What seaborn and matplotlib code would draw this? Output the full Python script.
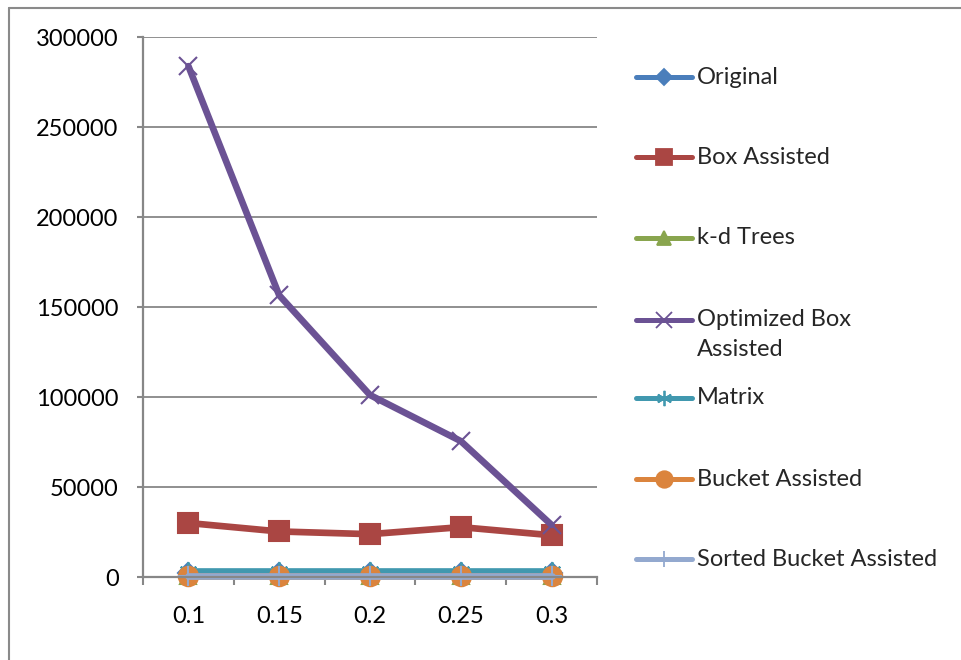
import matplotlib
matplotlib.use("Agg")
import matplotlib.pyplot as plt
from matplotlib.lines import Line2D
import seaborn as sns

# Series data
thresholds = ["0.1", "0.15", "0.2", "0.25", "0.3"]
original = [2500, 2500, 2500, 2500, 2500]
box_assisted = [30000, 25300, 23800, 27700, 23200]
kd_trees = [600, 600, 600, 600, 600]
optimized_box = [283800, 156500, 101100, 75500, 28900]
matrix = [3300, 3300, 3300, 3300, 3300]
bucket_assisted = [400, 400, 400, 400, 400]
sorted_bucket = [300, 300, 300, 300, 300]

y_ticks = [0, 50000, 100000, 150000, 200000, 250000, 300000]

series = [
    ("Original", original, "#4A7EBB", "D", 10),
    ("Box Assisted", box_assisted, "#AA4643", "s", 14),
    ("k-d Trees", kd_trees, "#89A54E", "^", 12),
    ("Optimized Box\nAssisted", optimized_box, "#6B5294", "x", 13),
    ("Matrix", matrix, "#4198AF", (6, 2, 0), 13),
    ("Bucket Assisted", bucket_assisted, "#DB843D", "o", 14),
    ("Sorted Bucket Assisted", sorted_bucket, "#93A9CF", "+", 14),
]

sns.set_theme(style="white")
plt.rcParams["font.family"] = ["Lato", "DejaVu Sans"]
FS = 17

W, H = 962, 660
fig = plt.figure(figsize=(W / 100, H / 100), dpi=100)
fig.patch.set_facecolor("white")
ax = fig.add_axes([143 / W, 1 - 577 / H, (597 - 143) / W, (577 - 37) / H])

for name, vals, color, mk, ms in series:
    sns.lineplot(x=thresholds, y=vals, ax=ax, color=color, lw=4.8,
                 marker=mk, markersize=ms, markeredgecolor=color,
                 markerfacecolor=color, markeredgewidth=1.5,
                 sort=False, legend=False, clip_on=False)

grid_col = "#878787"
ax.set_ylim(0, 300000)
ax.set_xlim(-0.5, 4.5)
ax.set_yticks(y_ticks)
ax.set_yticklabels([str(v) for v in y_ticks], fontsize=FS, color="black")
ax.yaxis.grid(True, color=grid_col, lw=1.3)
ax.set_axisbelow(True)
ax.tick_params(axis="y", length=4.5, width=1.5, color=grid_col,
               pad=13, left=True)

# Category tick marks sit between categories; labels sit under each category
ax.set_xticks([i - 0.5 for i in range(len(thresholds) + 1)])
ax.set_xticklabels([])
ax.set_xticks(range(len(thresholds)), minor=True)
ax.set_xticklabels(thresholds, minor=True, fontsize=FS, color="black")
ax.tick_params(axis="x", which="major", length=5.5, width=1.5,
               color=grid_col, bottom=True)
ax.tick_params(axis="x", which="minor", length=0, pad=21)
ax.set_xlabel("")
ax.set_ylabel("")

for side in ["top", "right"]:
    ax.spines[side].set_visible(False)
for side in ["left", "bottom"]:
    ax.spines[side].set_color(grid_col)
    ax.spines[side].set_linewidth(1.6)

# Legend entries drawn in figure space
legend_rows = [77, 157, 238, 320, 398, 479, 559]
for (name, vals, color, mk, ms), yc in zip(series, legend_rows):
    yf = 1 - yc / H
    fig.add_artist(Line2D([636 / W, 692 / W], [yf, yf], color=color, lw=3.6,
                          solid_capstyle="round"))
    fig.add_artist(Line2D([664 / W], [yf], color=color, marker=mk,
                          markersize=ms * 0.85, markerfacecolor=color,
                          markeredgecolor=color, markeredgewidth=1.3))
    if "\n" in name:
        fig.text(697 / W, 1 - (yc - 11) / H, name, fontsize=FS, va="top",
                 ha="left", linespacing=1.5)
    else:
        fig.text(697 / W, yf, name, fontsize=FS, va="center", ha="left")

# Chart-area border (top and left edges)
border = "#8A8A8A"
fig.add_artist(Line2D([9 / W, 9 / W], [0, 1 - 8 / H], color=border, lw=1.5))
fig.add_artist(Line2D([9 / W, 1], [1 - 8 / H, 1 - 8 / H], color=border, lw=1.5))

fig.savefig("out.png", dpi=100, facecolor="white")
